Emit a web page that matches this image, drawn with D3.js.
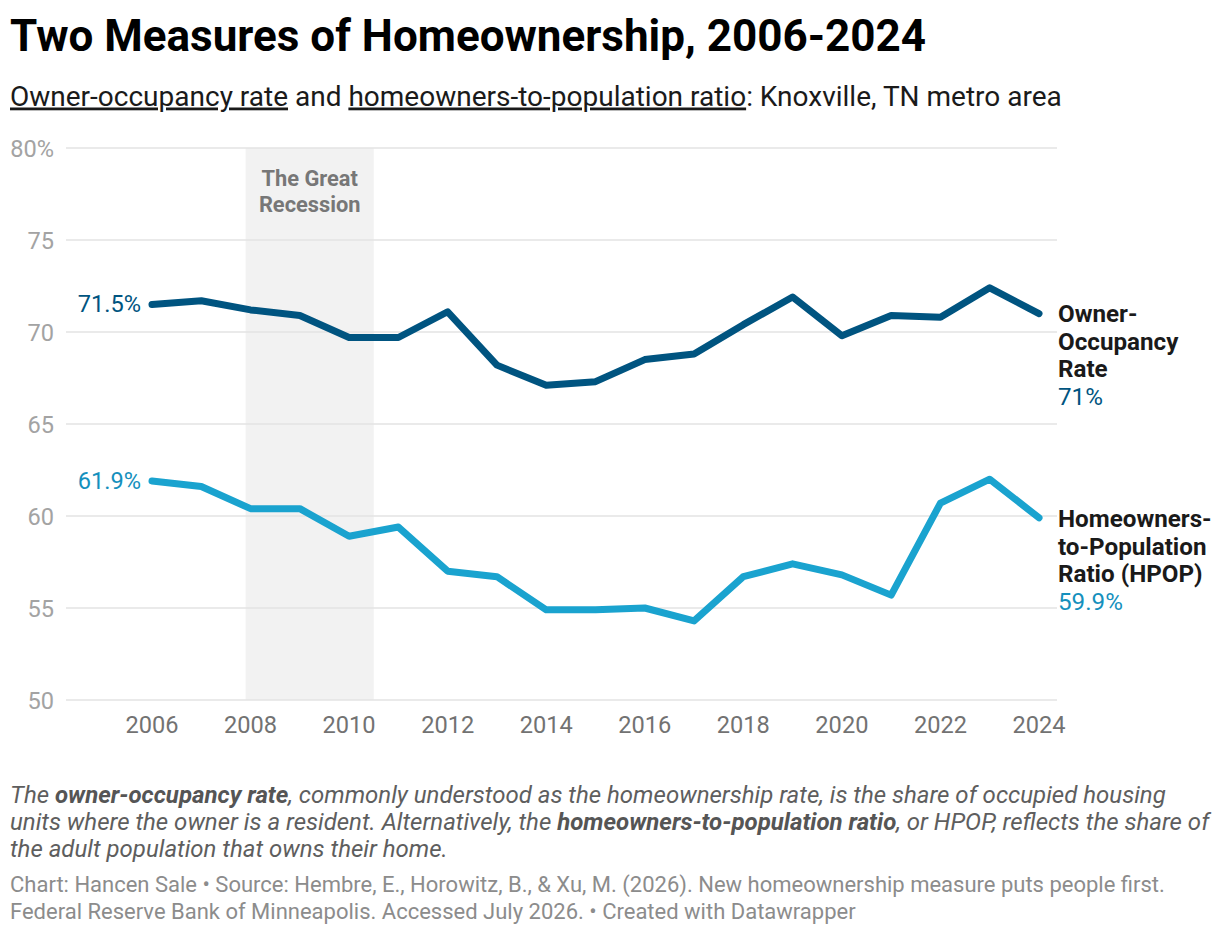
<!DOCTYPE html>
<html><head><meta charset="utf-8">
<script src="https://cdn.jsdelivr.net/npm/d3@7"></script>
<style>
html,body{margin:0;padding:0;background:#fff;}
svg{display:block;font-family:Roboto,"Noto Sans",sans-serif;}
</style></head>
<body>
<svg id="chart" width="1220" height="936"></svg>
<script>
const years = [2006,2007,2008,2009,2010,2011,2012,2013,2014,2015,2016,2017,2018,2019,2020,2021,2022,2023,2024];
const ownerOccupancy = [71.5,71.7,71.2,70.9,69.7,69.7,71.1,68.2,67.1,67.3,68.5,68.8,70.4,71.9,69.8,70.9,70.8,72.4,71.0];
const hpop = [61.9,61.6,60.4,60.4,58.9,59.4,57.0,56.7,54.9,54.9,55.0,54.3,56.7,57.4,56.8,55.7,60.7,62.0,59.9];
const yTicks = [50,55,60,65,70,75,80];
const xTicks = [2006,2008,2010,2012,2014,2016,2018,2020,2022,2024];
const recession = [2007.9, 2010.5];

const svg = d3.select("#chart");
const x = d3.scaleLinear().domain([2006,2024]).range([152,1039]);
const y = d3.scaleLinear().domain([50,80]).range([700,148]);
const gridL = 66, gridR = 1057;

const darkBlue = "#005480", lightBlue = "#1aa3cf", labelBlue = "#1590bd";

// title
svg.append("text").attr("x",10).attr("y",51)
  .attr("font-size",44).attr("font-weight",700).attr("fill","#000")
  .text("Two Measures of Homeownership, 2006-2024");

const sub = svg.append("text").attr("x",10).attr("y",105.5)
  .attr("font-size",28).attr("fill","#1a1a1a");
sub.append("tspan").style("text-decoration","underline").text("Owner-occupancy rate");
sub.append("tspan").text(" and ");
sub.append("tspan").style("text-decoration","underline").text("homeowners-to-population ratio");
sub.append("tspan").text(": Knoxville, TN metro area");

// recession band
svg.append("rect").attr("x",x(recession[0])).attr("y",y(80))
  .attr("width",x(recession[1])-x(recession[0])).attr("height",y(50)-y(80))
  .attr("fill","#f2f2f2");
const rc = (x(recession[0])+x(recession[1]))/2;
svg.append("text").attr("x",rc).attr("y",186).attr("text-anchor","middle")
  .attr("font-size",21.8).attr("font-weight",700).attr("fill","#777").text("The Great");
svg.append("text").attr("x",rc).attr("y",212).attr("text-anchor","middle")
  .attr("font-size",21.8).attr("font-weight",700).attr("fill","#777").text("Recession");

// grid
svg.append("g").selectAll("line").data(yTicks).join("line")
  .attr("x1",gridL).attr("x2",gridR).attr("y1",d=>y(d)).attr("y2",d=>y(d))
  .attr("stroke","#e3e3e3").attr("stroke-width",1.6);

svg.append("g").selectAll("text").data(yTicks).join("text")
  .attr("x",54).attr("y",d=>y(d)+8.5).attr("text-anchor","end")
  .attr("font-size",23.6).attr("fill","#a3a3a3")
  .text(d=>d===80? "80%" : d);

svg.append("g").selectAll("text").data(xTicks).join("text")
  .attr("x",d=>x(d)).attr("y",733).attr("text-anchor","middle")
  .attr("font-size",23.6).attr("fill","#727272").text(d=>d);

// lines
const line = d3.line().x((d,i)=>x(years[i])).y(d=>y(d));
svg.append("path").datum(hpop).attr("d",line).attr("fill","none")
  .attr("stroke",lightBlue).attr("stroke-width",7).attr("stroke-linejoin","round").attr("stroke-linecap","round");
svg.append("path").datum(ownerOccupancy).attr("d",line).attr("fill","none")
  .attr("stroke",darkBlue).attr("stroke-width",7).attr("stroke-linejoin","round").attr("stroke-linecap","round");

// start labels
svg.append("text").attr("x",141).attr("y",y(ownerOccupancy[0])+8).attr("text-anchor","end")
  .attr("font-size",23.6).attr("fill",darkBlue).text(ownerOccupancy[0].toFixed(1)+"%");
svg.append("text").attr("x",141).attr("y",y(hpop[0])+8).attr("text-anchor","end")
  .attr("font-size",23.6).attr("fill",labelBlue).text(hpop[0].toFixed(1)+"%");

// end labels
function endLabel(lines, val, color, y0){
  const t = svg.append("text").attr("x",1058).attr("font-size",24.2);
  lines.forEach((l,i)=>{
    t.append("tspan").attr("x",1058).attr("y",y0+i*27.7).attr("font-weight",700).attr("fill","#1a1a1a").text(l);
  });
  t.append("tspan").attr("x",1058).attr("y",y0+lines.length*27.7).attr("fill",color).text(val);
}
endLabel(["Owner-","Occupancy","Rate"], d3.format("~f")(ownerOccupancy[18])+"%", darkBlue, 322);
endLabel(["Homeowners-","to-Population","Ratio (HPOP)"], hpop[18].toFixed(1)+"%", labelBlue, 527);

// footnote
const note = [
  [["The ",0],["owner-occupancy rate",1],[", commonly understood as the homeownership rate, is the share of occupied housing",0]],
  [["units where the owner is a resident. Alternatively, the ",0],["homeowners-to-population ratio",1],[", or HPOP, reflects the share of",0]],
  [["the adult population that owns their home.",0]]
];
note.forEach((ln,i)=>{
  const t = svg.append("text").attr("x",10).attr("y",803+i*27)
    .attr("font-size",24).attr("font-style","italic").attr("fill","#5e5e5e");
  ln.forEach(([s,b])=>t.append("tspan").attr("font-weight",b?700:400).attr("fill",b?"#555":"#5e5e5e").text(s));
});
const src = [
  "Chart: Hancen Sale \u2022 Source: Hembre, E., Horowitz, B., & Xu, M. (2026). New homeownership measure puts people first.",
  "Federal Reserve Bank of Minneapolis. Accessed July 2026. \u2022 Created with Datawrapper"
];
src.forEach((s,i)=>svg.append("text").attr("x",10).attr("y",892+i*27)
  .attr("font-size",22).attr("fill","#8c8c8c").text(s));
</script>
</body></html>
